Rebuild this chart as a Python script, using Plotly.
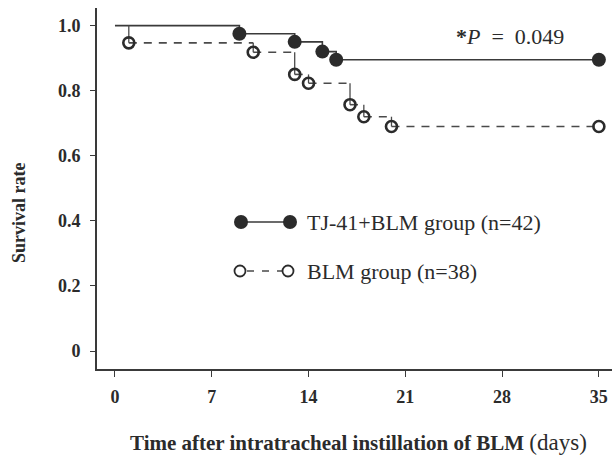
import plotly.graph_objects as go

# ---- data ----
start_day = 0
start_surv = 1.0
tj_days = [9, 13, 15, 16, 35]
tj_surv = [0.975, 0.95, 0.92, 0.895, 0.895]
blm_days = [1, 10, 13, 14, 17, 18, 20, 35]
blm_surv = [0.947, 0.918, 0.85, 0.823, 0.757, 0.72, 0.69, 0.69]

x_ticks = [0, 7, 14, 21, 28, 35]
y_ticks = [0, 0.2, 0.4, 0.6, 0.8, 1.0]
y_ticktext = ["0", "0.2", "0.4", "0.6", "0.8", "1.0"]

tj_label = "TJ-41+BLM group (n=42)"
blm_label = "BLM group (n=38)"
p_text = "<b>*</b><i>P</i>  =  0.049"
x_title = "<b>Time after intratracheal instillation of BLM</b> <span style='font-size:23px'>(days)</span>"
y_title = "<b>Survival rate</b>"

FONT = "Liberation Serif"
DARK = "#2b2b2b"
LINE = "#3a3a3a"

fig = go.Figure()

# TJ-41+BLM: solid step curve
fig.add_trace(go.Scatter(
    x=[start_day] + tj_days, y=[start_surv] + tj_surv,
    mode="lines", line=dict(color=LINE, width=1.6, shape="hv"),
    showlegend=False, hoverinfo="skip"))

# BLM: dashed horizontals, solid verticals
bx = [start_day] + blm_days
by = [start_surv] + blm_surv
hx, hy, vx, vy = [], [], [], []
for i in range(1, len(bx)):
    if i + 1 < len(bx):
        hx += [bx[i], bx[i + 1], None]
        hy += [by[i], by[i], None]
    vx += [bx[i], bx[i], None]
    vy += [by[i - 1], by[i], None]

fig.add_trace(go.Scatter(
    x=hx, y=hy, mode="lines",
    line=dict(color="#4a4a4a", width=1.6, dash="8px,7px"),
    showlegend=False, hoverinfo="skip"))
fig.add_trace(go.Scatter(
    x=vx, y=vy, mode="lines",
    line=dict(color="#4a4a4a", width=1.3),
    showlegend=False, hoverinfo="skip"))

# markers
fig.add_trace(go.Scatter(
    x=blm_days, y=blm_surv, mode="markers",
    marker=dict(symbol="circle-open", size=11, color=DARK, line=dict(width=2.6, color=DARK)),
    showlegend=False, hoverinfo="skip"))
fig.add_trace(go.Scatter(
    x=tj_days, y=tj_surv, mode="markers",
    marker=dict(symbol="circle", size=14, color=DARK, line=dict(width=0)),
    showlegend=False, hoverinfo="skip"))

# ---- layout geometry (pixels -> paper) ----
L, R, T, B = 97, 0, 8, 89
W, H = 612, 458
pw, ph = W - L - R, H - T - B


def px(xp):
    return (xp - L) / pw


def py(yp):
    return (H - B - yp) / ph


shapes = []
r1y = py(222)
shapes.append(dict(type="line", xref="paper", yref="paper", x0=px(241), x1=px(290), y0=r1y, y1=r1y,
                   line=dict(color=LINE, width=1.6)))
for cx in (241, 290):
    shapes.append(dict(type="circle", xref="paper", yref="paper", xsizemode="pixel", ysizemode="pixel",
                       xanchor=px(cx), yanchor=r1y, x0=-7, x1=7, y0=-7, y1=7,
                       fillcolor=DARK, line=dict(width=0)))
r2y = py(271)
shapes.append(dict(type="line", xref="paper", yref="paper", x0=px(247), x1=px(283), y0=r2y, y1=r2y,
                   line=dict(color="#4a4a4a", width=1.6, dash="7px,8px")))
for cx in (240, 288):
    shapes.append(dict(type="circle", xref="paper", yref="paper", xsizemode="pixel", ysizemode="pixel",
                       xanchor=px(cx), yanchor=r2y, x0=-5.5, x1=5.5, y0=-5.5, y1=5.5,
                       fillcolor="white", line=dict(width=1.8, color=DARK)))

annotations = [
    dict(text=tj_label, x=px(305), y=r1y, xref="paper", yref="paper", xanchor="left", yanchor="middle",
         showarrow=False, font=dict(family=FONT, size=22, color=DARK)),
    dict(text=blm_label, x=px(305), y=r2y, xref="paper", yref="paper", xanchor="left", yanchor="middle",
         showarrow=False, font=dict(family=FONT, size=22, color=DARK)),
    dict(text=p_text, x=px(510), y=py(36), xref="paper", yref="paper", xanchor="center", yanchor="middle",
         showarrow=False, font=dict(family=FONT, size=22, color=DARK)),
    dict(text=x_title, x=px(358), y=py(442), xref="paper", yref="paper", xanchor="center", yanchor="middle",
         showarrow=False, font=dict(family=FONT, size=21, color=DARK)),
    dict(text=y_title, x=px(19), y=py(213), xref="paper", yref="paper", xanchor="center", yanchor="middle",
         textangle=-90, showarrow=False, font=dict(family=FONT, size=18, color=DARK)),
]

fig.update_layout(
    width=W, height=H,
    margin=dict(l=L, r=R, t=T, b=B, pad=0),
    paper_bgcolor="white", plot_bgcolor="white",
    shapes=shapes, annotations=annotations,
    showlegend=False,
    xaxis=dict(range=[-1.3, 35.95], tickvals=x_ticks, ticks="outside", ticklen=6, tickwidth=1.3,
               tickcolor=LINE, showline=True, linecolor=LINE, linewidth=1.6, showgrid=False,
               zeroline=False, ticklabelstandoff=5,
               tickfont=dict(family=FONT, size=18, color=DARK, weight="bold")),
    yaxis=dict(range=[-0.055, 1.054], tickvals=y_ticks, ticktext=y_ticktext, ticks="outside", ticklen=5,
               tickwidth=1.3, tickcolor=LINE, showline=True, linecolor=LINE, linewidth=1.6,
               showgrid=False, zeroline=False, ticklabelstandoff=6,
               tickfont=dict(family=FONT, size=18, color=DARK, weight="bold")),
)

fig.write_html("out.html")
